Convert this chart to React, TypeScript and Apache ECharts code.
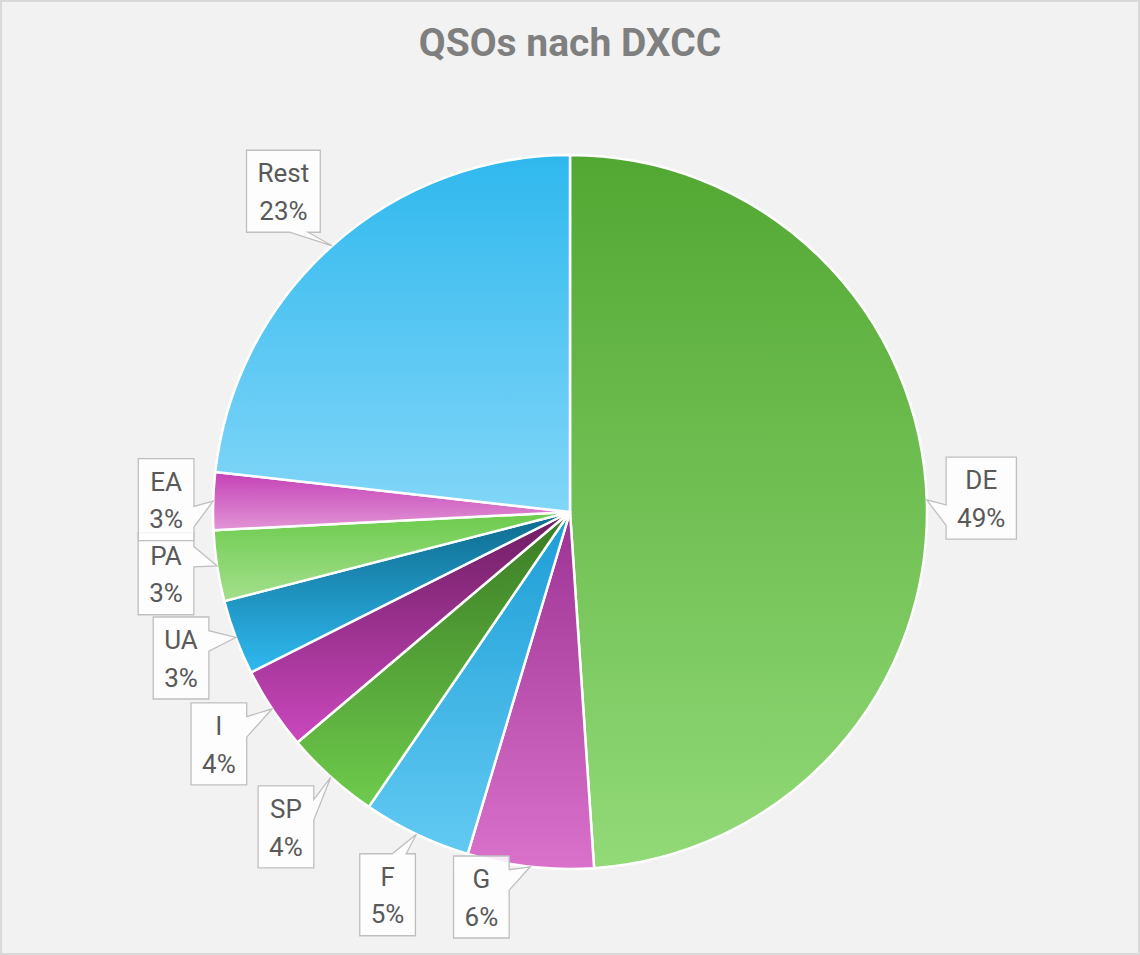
import React, { useEffect, useRef } from "react";
import * as echarts from "echarts";

// ---- data ----
const categories = ["DE", "G", "F", "SP", "I", "UA", "PA", "EA", "Rest"];
const shares = [48.9, 5.7, 4.9, 4.3, 3.75, 3.4, 3.2, 2.6, 23.2];
const titleText = "QSOs nach DXCC";

// ---- styles ----
const topColors = ["#52A732", "#9C3292", "#1C9DD6", "#3A7A24", "#6C1C60", "#0E6A8C", "#6CCB4C", "#C441B6", "#2FB8EE"];
const bottomColors = ["#92DA78", "#DA72CC", "#62CAF3", "#6ECB4C", "#CB48BE", "#2FB9F0", "#A4DF8D", "#E294D6", "#82D6F8"];

const W = 1140;
const H = 955;
const CX = 570;
const CY = 512;
const R = 357;
const GAP = 18;
const EDGE = 17;
const FONT_SIZE = 26;
const LINE_H = 37.5;
const PAD_X = 11;
const BOX_H = 82;
const FONT = "Roboto";
const labelShift: Record<string, [number, number]> = { G: [-42, 0] };

function wedgeCallout(l: number, t: number, w: number, h: number, xPos: number, yPos: number): number[][] {
  const r = l + w;
  const b = t + h;
  const hc = l + w / 2;
  const vc = t + h / 2;
  const dxPos = xPos - hc;
  const dyPos = yPos - vc;
  const vertical = Math.abs(dyPos * w) > Math.abs(dxPos * h);
  const x1 = l + (w * (dxPos > 0 ? 7 : 2)) / 12;
  const x2 = l + (w * (dxPos > 0 ? 10 : 5)) / 12;
  const y1 = t + (h * (dyPos > 0 ? 7 : 2)) / 12;
  const y2 = t + (h * (dyPos > 0 ? 10 : 5)) / 12;
  const pts: number[][] = [[l, t]];
  if (vertical && dyPos < 0) pts.push([x1, t], [xPos, yPos], [x2, t]);
  pts.push([r, t]);
  if (!vertical && dxPos > 0) pts.push([r, y1], [xPos, yPos], [r, y2]);
  pts.push([r, b]);
  if (vertical && dyPos > 0) pts.push([x2, b], [xPos, yPos], [x1, b]);
  pts.push([l, b]);
  if (!vertical && dxPos < 0) pts.push([l, y2], [xPos, yPos], [l, y1]);
  return pts;
}

export default function App() {
  const ref = useRef<HTMLDivElement>(null);

  useEffect(() => {
    if (!ref.current) return;
    const chart = echarts.init(ref.current, undefined, { renderer: "svg" });

    const total = shares.reduce((a, c) => a + c, 0);
    const canvas = document.createElement("canvas");
    const ctx = canvas.getContext("2d")!;
    ctx.font = `${FONT_SIZE}px ${FONT}`;

    let acc = 0;
    const callouts: any[] = [];
    categories.forEach((name, i) => {
      const v = shares[i];
      const theta = ((acc + v / 2) / total) * Math.PI * 2;
      acc += v;
      const pct = Math.round((v / total) * 100) + "%";
      const s = Math.sin(theta);
      const c = Math.cos(theta);
      const w = Math.max(ctx.measureText(name).width, ctx.measureText(pct).width) + PAD_X * 2;
      const h = BOX_H;
      const support = (w / 2) * Math.abs(s) + (h / 2) * Math.abs(c);
      const d = R + GAP + support;
      let bx = CX + d * s;
      let by = CY - d * c;
      by = Math.min(Math.max(by, EDGE + h / 2), H - EDGE - h / 2);
      bx = Math.min(Math.max(bx, EDGE + w / 2), W - EDGE - w / 2);
      const sh = labelShift[name];
      if (sh) {
        bx += sh[0];
        by += sh[1];
      }
      const tipX = CX + R * s;
      const tipY = CY - R * c;
      const pts = wedgeCallout(bx - w / 2, by - h / 2, w, h, tipX, tipY);
      callouts.push({
        type: "polygon",
        z: 10,
        shape: { points: pts },
        style: { fill: "rgba(255,255,255,0.86)", stroke: "#BFBFBF", lineWidth: 1.3 },
        silent: true,
      });
      callouts.push({
        type: "text",
        z: 11,
        x: bx,
        y: by + 1,
        style: {
          text: `${name}\n${pct}`,
          fontFamily: FONT,
          fontSize: FONT_SIZE,
          lineHeight: LINE_H,
          fill: "#595959",
          align: "center",
          verticalAlign: "middle",
        },
        silent: true,
      });
    });

    chart.setOption({
      animation: false,
      backgroundColor: "#F2F2F2",
      title: {
        text: titleText,
        left: "center",
        top: 18,
        textStyle: { fontFamily: FONT, fontWeight: "bold", fontSize: 39, color: "#7F7F7F" },
      },
      series: [
        {
          type: "pie",
          center: [CX, CY],
          radius: R,
          startAngle: 90,
          clockwise: true,
          silent: true,
          avoidLabelOverlap: false,
          label: { show: false },
          labelLine: { show: false },
          emphasis: { disabled: true },
          itemStyle: { borderColor: "#FFFFFF", borderWidth: 2.5 },
          data: categories.map((name, i) => ({
            name,
            value: shares[i],
            itemStyle: {
              color: {
                type: "linear",
                x: 0,
                y: 0,
                x2: 0,
                y2: 1,
                colorStops: [
                  { offset: 0, color: topColors[i] },
                  { offset: 1, color: bottomColors[i] },
                ],
              },
            },
          })),
        },
      ],
      graphic: [
        {
          type: "rect",
          z: 20,
          silent: true,
          shape: { x: 1, y: 1, width: W - 2, height: H - 2 },
          style: { fill: "none", stroke: "#D9D9D9", lineWidth: 2 },
        },
        ...callouts,
      ],
    });

    return () => chart.dispose();
  }, []);

  return <div ref={ref} style={{ position: "fixed", left: 0, top: 0, width: W, height: H }} />;
}
